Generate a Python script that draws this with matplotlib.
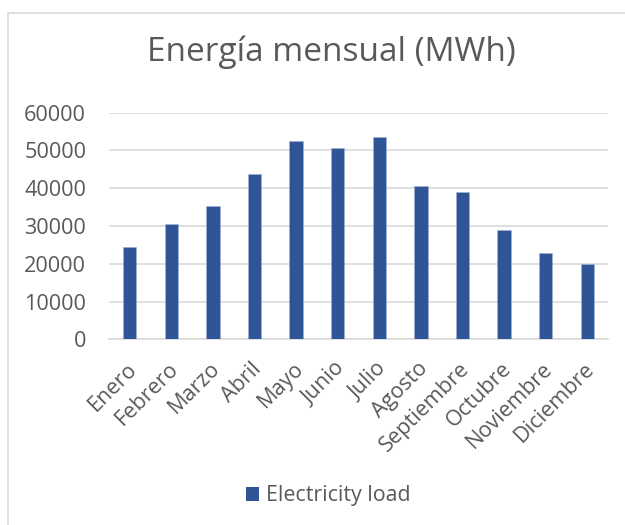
import numpy as np
import matplotlib.pyplot as plt
from matplotlib.lines import Line2D
from matplotlib.patches import Patch
import matplotlib.transforms as mtransforms

plt.rcParams['font.family'] = ['Open Sans', 'DejaVu Sans']

# DATA
months = ['Enero', 'Febrero', 'Marzo', 'Abril', 'Mayo', 'Junio', 'Julio',
          'Agosto', 'Septiembre', 'Octubre', 'Noviembre', 'Diciembre']
load = [24500, 30500, 35300, 43800, 52500, 50700, 53500,
        40700, 39000, 28900, 22900, 20000]
y_ticks = [0, 10000, 20000, 30000, 40000, 50000, 60000]

title = 'Energía mensual (MWh)'
series_name = 'Electricity load'

bar_color = '#2F5597'
text_color = '#595959'
grid_color = '#D9D9D9'

W, H = 625, 525
fig = plt.figure(figsize=(W / 100, H / 100), dpi=100)

# plot area in pixels: x 109..608, y 113..339 (from top)
ax = fig.add_axes([109 / W, 1 - 339.3 / H, (608 - 109) / W, (339.3 - 112.7) / H])

x = np.arange(len(months))
ax.bar(x, load, width=0.32, color=bar_color, edgecolor='#9FB1D6',
       linewidth=0.4, zorder=3)

ax.set_xlim(-0.5, len(months) - 0.5)
ax.set_ylim(0, 60000)
ax.set_yticks(y_ticks)
ax.set_yticklabels([str(v) for v in y_ticks])
ax.yaxis.grid(True, color=grid_color, linewidth=1.2, zorder=0)
ax.set_axisbelow(True)

for side in ['top', 'right', 'left']:
    ax.spines[side].set_visible(False)
ax.spines['bottom'].set_color(grid_color)
ax.spines['bottom'].set_linewidth(1.2)

ax.tick_params(axis='both', length=0, labelcolor=text_color, labelsize=15.6)
ax.tick_params(axis='y', pad=16.5)
ax.tick_params(axis='x', pad=19)

ax.set_xticks(x)
ax.set_xticklabels(months, rotation=45, ha='right', va='center',
                   rotation_mode='anchor')
offset = mtransforms.ScaledTranslation(4 / 100, 0, fig.dpi_scale_trans)
for lbl in ax.get_xticklabels():
    lbl.set_transform(lbl.get_transform() + offset)

fig.text(331 / W, 1 - 52 / H, title, ha='center', va='center',
         fontsize=24, color=text_color)

handle = Patch(facecolor=bar_color, edgecolor='none')
fig.legend([handle], [series_name], loc='center',
           bbox_to_anchor=(328 / W, 1 - 496 / H), frameon=False,
           fontsize=15.4, labelcolor=text_color,
           handlelength=0.65, handleheight=0.65, handletextpad=0.3)

# chart border (left and top edges visible)
fig.add_artist(Line2D([8 / W, 8 / W, 1.0], [0.0, 1 - 13 / H, 1 - 13 / H],
                      transform=fig.transFigure, color=grid_color, linewidth=1.2))

fig.savefig('out.png', dpi=100)
